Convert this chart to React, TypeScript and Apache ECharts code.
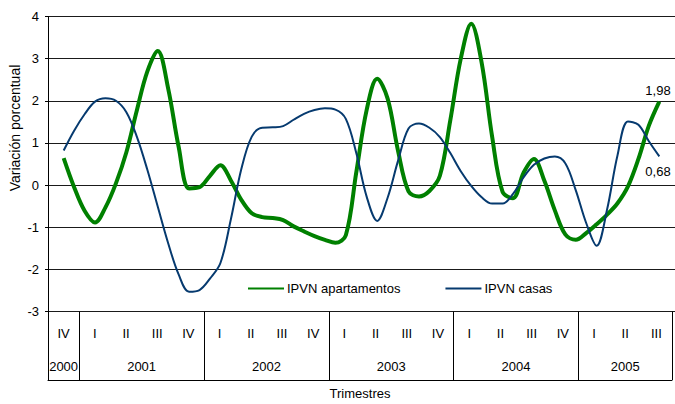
import React, { useEffect, useRef } from 'react';
import * as echarts from 'echarts';

// Quarter labels (2000 IV .. 2005 III)
const quarterLabels = ['IV', 'I', 'II', 'III', 'IV', 'I', 'II', 'III', 'IV', 'I', 'II', 'III', 'IV', 'I', 'II', 'III', 'IV', 'I', 'II', 'III'];
const yearLabels = ['2000', '2001', '2002', '2003', '2004', '2005'];
const quartersPerYear = [1, 4, 4, 4, 4, 3];
const seriesNames = ['IPVN apartamentos', 'IPVN casas'];
const yMin = -3;
const yMax = 4;
const yAxisTitle = 'Variación porcentual';
const xAxisTitle = 'Trimestres';

// Values, three readings per quarter (first = middle of 2000 IV, last = middle of 2005 III)
const apartamentos = [
  0.64, -0.05, -0.61, -0.89, -0.53, 0.04, 0.78, 1.77, 2.69, 3.18,
  2.29, 0.91, -0.08, -0.05, 0.22, 0.47, 0.11, -0.35, -0.67, -0.76,
  -0.78, -0.83, -0.98, -1.10, -1.21, -1.30, -1.37, -1.19, 0.30, 1.79,
  2.52, 2.05, 0.81, -0.15, -0.27, -0.14, 0.22, 1.54, 3.0, 3.83,
  2.90, 1.15, -0.16, -0.31, 0.29, 0.62, 0.10, -0.60, -1.17, -1.30,
  -1.14, -0.93, -0.70, -0.43, -0.03, 0.62, 1.41, 1.98,
];
const casas = [
  0.82, 1.29, 1.68, 1.98, 2.06, 2.00, 1.73, 1.15, 0.37, -0.51,
  -1.38, -2.12, -2.53, -2.49, -2.22, -1.85, -0.81, 0.38, 1.15, 1.36,
  1.37, 1.40, 1.55, 1.69, 1.78, 1.82, 1.79, 1.57, 0.76, -0.28,
  -0.85, -0.30, 0.58, 1.34, 1.46, 1.36, 1.14, 0.76, 0.33, -0.02,
  -0.29, -0.44, -0.44, -0.21, 0.18, 0.48, 0.63, 0.68, 0.52, -0.12,
  -0.90, -1.44, -0.58, 0.71, 1.51, 1.43, 1.04, 0.68,
];

const FONT = 'Arial, "Liberation Sans", sans-serif';

export default function App() {
  const ref = useRef<HTMLDivElement>(null);

  useEffect(() => {
    if (!ref.current) return;
    const chart = echarts.init(ref.current, null, { renderer: 'svg' });

    const nQ = quarterLabels.length;
    const yearStarts: number[] = [];
    const yearAtHalf: Record<number, string> = {};
    let s = 0;
    yearLabels.forEach((y, i) => {
      yearStarts.push(s);
      yearAtHalf[2 * s + quartersPerYear[i]] = y;
      s += quartersPerYear[i];
    });
    const halfSlots = Array.from({ length: 2 * nQ + 1 }, (_, i) => 'h' + i);

    const toPoints = (arr: number[]) => arr.map((v, k) => [0.5 + k / 3, v]);
    const endLabel = (offset: number[]) => ({
      show: true,
      distance: 5,
      offset,
      formatter: (p: any) => Number(p.value[1]).toFixed(2).replace('.', ','),
      color: '#000',
      fontFamily: FONT,
      fontSize: 13,
    });

    const option: any = {
      animation: false,
      backgroundColor: '#fff',
      grid: [
        { left: 48, top: 16.5, width: 631, height: 295, containLabel: false },
        { left: 48, top: 311.5, width: 631, height: 68.5, containLabel: false },
      ],
      legend: {
        data: seriesNames,
        left: 247,
        top: 282,
        padding: 0,
        itemWidth: 36,
        itemHeight: 14,
        itemGap: 44,
        itemStyle: { opacity: 0 },
        textStyle: { color: '#000', fontFamily: FONT, fontSize: 13, padding: [0, 0, 0, -2] },
      },
      xAxis: [
        { type: 'value', gridIndex: 0, min: 0, max: nQ, show: false },
        {
          type: 'category',
          gridIndex: 1,
          data: quarterLabels.map((_q, i) => 'q' + i),
          position: 'top',
          boundaryGap: true,
          axisLine: { show: true, lineStyle: { color: '#000', width: 1 } },
          axisTick: { show: false },
          axisLabel: {
            inside: true,
            margin: 15,
            interval: 0,
            formatter: (_v: string, idx: number) => quarterLabels[idx],
            color: '#000',
            fontFamily: FONT,
            fontSize: 13,
          },
          splitLine: {
            show: true,
            interval: (idx: number) => yearStarts.includes(idx),
            lineStyle: { color: '#000', width: 1 },
          },
        },
        {
          type: 'category',
          gridIndex: 1,
          data: halfSlots,
          position: 'bottom',
          boundaryGap: false,
          axisLine: { show: false },
          axisTick: { show: false },
          splitLine: { show: false },
          axisLabel: {
            inside: true,
            margin: 7,
            interval: 0,
            formatter: (_v: string, idx: number) => yearAtHalf[idx] || '',
            color: '#000',
            fontFamily: FONT,
            fontSize: 13,
          },
          name: xAxisTitle,
          nameLocation: 'middle',
          nameGap: 7,
          nameTextStyle: { color: '#000', fontFamily: FONT, fontSize: 13, verticalAlign: 'top' },
        },
      ],
      yAxis: [
        {
          type: 'value',
          gridIndex: 0,
          min: yMin,
          max: yMax,
          interval: 1,
          axisLine: { show: true, lineStyle: { color: '#000', width: 1 } },
          axisTick: { show: true, length: 3, lineStyle: { color: '#000' } },
          axisLabel: { color: '#000', fontFamily: FONT, fontSize: 13, margin: 9 },
          splitLine: { show: true, lineStyle: { color: '#1a1a1a', width: 1 } },
        },
        {
          type: 'value',
          gridIndex: 1,
          min: 0,
          max: 1,
          axisLine: { show: true, lineStyle: { color: '#000', width: 1 } },
          axisTick: { show: false },
          axisLabel: { show: false },
          splitLine: { show: false },
        },
      ],
      graphic: [
        {
          type: 'text',
          x: 15,
          y: 128,
          rotation: Math.PI / 2,
          style: {
            text: yAxisTitle,
            fill: '#000',
            font: '14px ' + FONT,
            textAlign: 'center',
            textVerticalAlign: 'middle',
          },
        },
      ],
      series: [
        {
          name: seriesNames[0],
          type: 'line',
          xAxisIndex: 0,
          yAxisIndex: 0,
          data: toPoints(apartamentos),
          smooth: 0.35,
          symbol: 'none',
          lineStyle: { color: '#008000', width: 4 },
          itemStyle: { color: '#008000' },
          endLabel: endLabel([-19, -11]),
        },
        {
          name: seriesNames[1],
          type: 'line',
          xAxisIndex: 0,
          yAxisIndex: 0,
          data: toPoints(casas),
          smooth: 0.35,
          symbol: 'none',
          lineStyle: { color: '#063a6f', width: 2 },
          itemStyle: { color: '#063a6f' },
          endLabel: endLabel([-19, 15]),
        },
      ],
    };

    chart.setOption(option);
    return () => chart.dispose();
  }, []);

  return <div ref={ref} style={{ position: 'fixed', left: 0, top: 0, width: 675, height: 404 }} />;
}
